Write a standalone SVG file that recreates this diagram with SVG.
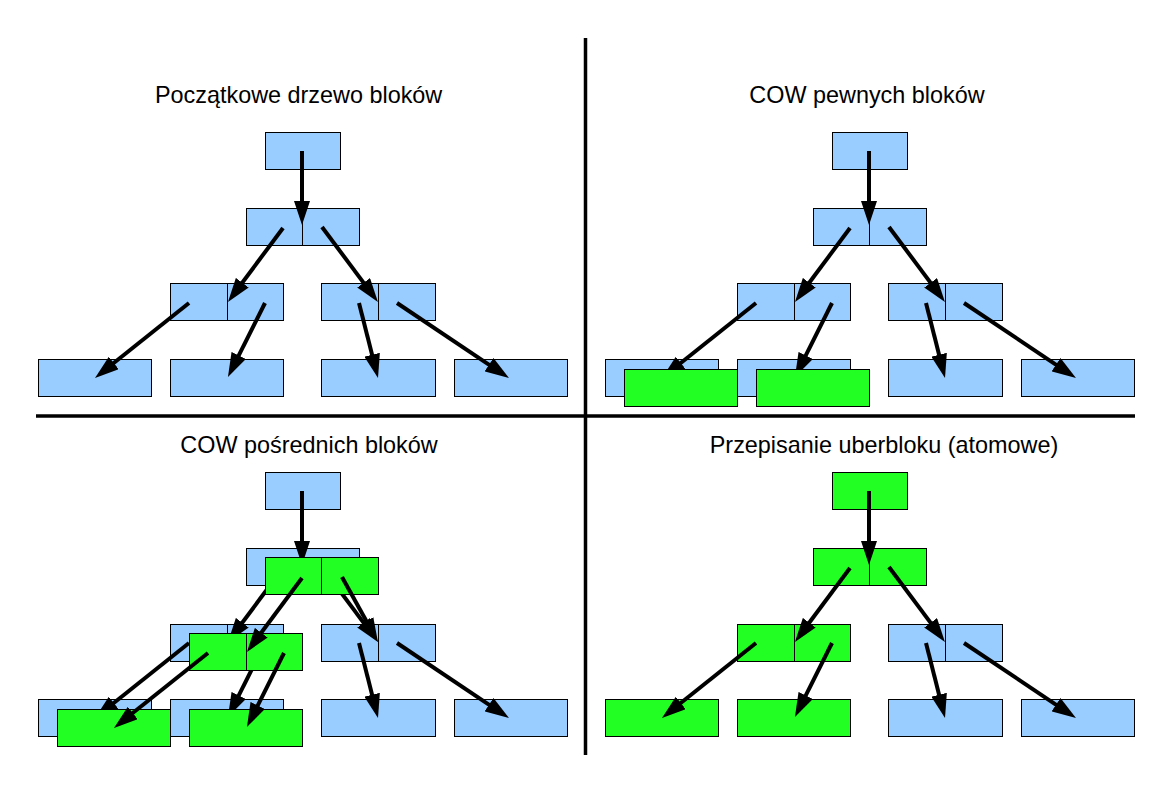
<svg xmlns="http://www.w3.org/2000/svg" width="1172" height="794" viewBox="0 0 1172 794">
<style>
.b{fill:#99ccff;stroke:#000;stroke-width:1}
.g{fill:#22ff22;stroke:#000;stroke-width:1}
.d{stroke:#000;stroke-width:1}
.a{stroke:#000;stroke-width:4;fill:none;marker-end:url(#ah)}
.sep{stroke:#000;stroke-width:3.5}
.t{font-family:"Liberation Sans",Arial,sans-serif;font-size:23.4px;fill:#000;text-anchor:middle}
</style>
<defs>
<marker id="ah" markerUnits="userSpaceOnUse" viewBox="0 0 24 16" markerWidth="24" markerHeight="16" refX="2" refY="8" orient="auto">
<path d="M0,0 L24,8 L0,16 z" fill="#000"/>
</marker>
</defs>
<rect width="1172" height="794" fill="#fff"/>
<g id="separators">
<line class="sep" x1="585.5" y1="38" x2="585.5" y2="755"/>
<line class="sep" x1="36" y1="416" x2="1135" y2="416"/>
</g>
<g id="titles">
<text class="t" x="298.6" y="103">Początkowe drzewo bloków</text>
<text class="t" x="867" y="103">COW pewnych bloków</text>
<text class="t" x="309" y="453">COW pośrednich bloków</text>
<text class="t" x="884" y="453">Przepisanie uberbloku (atomowe)</text>
</g>

<!-- Quadrant 1 -->
<g id="q1-root"><rect class="b" x="265.5" y="132.5" width="75" height="37"/></g>
<g id="q1-l2"><rect class="b" x="246.5" y="208.5" width="113" height="37"/><line class="d" x1="302.5" y1="208.5" x2="302.5" y2="245.5"/></g>
<g id="q1-l3a"><rect class="b" x="170.5" y="283.5" width="113" height="37"/><line class="d" x1="227.5" y1="283.5" x2="227.5" y2="320.5"/></g>
<g id="q1-l3b"><rect class="b" x="321.5" y="283.5" width="114" height="37"/><line class="d" x1="378.5" y1="283.5" x2="378.5" y2="320.5"/></g>
<g id="q1-l4a"><rect class="b" x="38.5" y="359.5" width="113" height="37"/></g>
<g id="q1-l4b"><rect class="b" x="170.5" y="359.5" width="113" height="37"/></g>
<g id="q1-l4c"><rect class="b" x="321.5" y="359.5" width="114" height="37"/></g>
<g id="q1-l4d"><rect class="b" x="454.5" y="359.5" width="113" height="37"/></g>
<g id="q1-connectors">
<path class="a" d="M302,151 L302,203"/>
<path class="a" d="M283,228 L241.1,284.3"/>
<path class="a" d="M322,227 L364.8,284.4"/>
<path class="a" d="M189,303 L112.2,364.3"/>
<path class="a" d="M265,303 L237.8,357.3"/>
<path class="a" d="M359,303 L372.6,356.7"/>
<path class="a" d="M397,303 L490.7,365.8"/>
</g>

<!-- Quadrant 2 -->
<g id="q2-root"><rect class="b" x="832.5" y="132.5" width="75" height="37"/></g>
<g id="q2-l2"><rect class="b" x="813.5" y="208.5" width="113" height="37"/><line class="d" x1="869.5" y1="208.5" x2="869.5" y2="245.5"/></g>
<g id="q2-l3a"><rect class="b" x="737.5" y="283.5" width="113" height="37"/><line class="d" x1="794.5" y1="283.5" x2="794.5" y2="320.5"/></g>
<g id="q2-l3b"><rect class="b" x="888.5" y="283.5" width="114" height="37"/><line class="d" x1="945.5" y1="283.5" x2="945.5" y2="320.5"/></g>
<g id="q2-l4a"><rect class="b" x="605.5" y="359.5" width="113" height="37"/></g>
<g id="q2-l4b"><rect class="b" x="737.5" y="359.5" width="113" height="37"/></g>
<g id="q2-l4c"><rect class="b" x="888.5" y="359.5" width="114" height="37"/></g>
<g id="q2-l4d"><rect class="b" x="1021.5" y="359.5" width="113" height="37"/></g>
<g id="q2-connectors">
<path class="a" d="M869,151 L869,203"/>
<path class="a" d="M850,228 L808.1,284.3"/>
<path class="a" d="M889,227 L931.8,284.4"/>
<path class="a" d="M756,303 L679.2,364.3"/>
<path class="a" d="M832,303 L804.8,357.3"/>
<path class="a" d="M926,303 L939.6,356.7"/>
<path class="a" d="M964,303 L1057.7,365.8"/>
</g>
<g id="q2-l4a-new"><rect class="g" x="624.5" y="369.5" width="113" height="37"/></g>
<g id="q2-l4b-new"><rect class="g" x="756.5" y="369.5" width="113" height="37"/></g>

<!-- Quadrant 3 -->
<g id="q3-root"><rect class="b" x="265.5" y="472.5" width="75" height="37"/></g>
<g id="q3-l2"><rect class="b" x="246.5" y="548.5" width="113" height="37"/></g>
<g id="q3-l3a"><rect class="b" x="170.5" y="624.5" width="113" height="37"/><line class="d" x1="227.5" y1="624.5" x2="227.5" y2="661.5"/></g>
<g id="q3-l3b"><rect class="b" x="321.5" y="624.5" width="114" height="37"/><line class="d" x1="378.5" y1="624.5" x2="378.5" y2="661.5"/></g>
<g id="q3-l4a"><rect class="b" x="38.5" y="699.5" width="113" height="37"/></g>
<g id="q3-l4b"><rect class="b" x="170.5" y="699.5" width="113" height="37"/></g>
<g id="q3-l4c"><rect class="b" x="321.5" y="699.5" width="114" height="37"/></g>
<g id="q3-l4d"><rect class="b" x="454.5" y="699.5" width="113" height="37"/></g>
<g id="q3-connectors-old">
<path class="a" d="M302,491 L302,543"/>
<path class="a" d="M283,568 L241.1,624.3"/>
<path class="a" d="M322,567 L364.8,624.4"/>
<path class="a" d="M189,643 L112.2,704.3"/>
<path class="a" d="M265,643 L237.8,697.3"/>
<path class="a" d="M359,643 L372.6,696.7"/>
<path class="a" d="M397,643 L490.7,705.8"/>
</g>
<g id="q3-l2-new"><rect class="g" x="265.5" y="557.5" width="113" height="37"/><line class="d" x1="321.5" y1="557.5" x2="321.5" y2="594.5"/></g>
<g id="q3-l3a-new"><rect class="g" x="189.5" y="633.5" width="113" height="37"/><line class="d" x1="246.5" y1="633.5" x2="246.5" y2="670.5"/></g>
<g id="q3-l4a-new"><rect class="g" x="57.5" y="709.5" width="113" height="37"/></g>
<g id="q3-l4b-new"><rect class="g" x="189.5" y="709.5" width="113" height="37"/></g>
<g id="q3-connectors-new">
<path class="a" d="M302,578 L260.1,634.3"/>
<path class="a" d="M342,577 L367.3,622.8"/>
<path class="a" d="M208,653 L131.2,714.3"/>
<path class="a" d="M284,653 L256.8,707.3"/>
</g>

<!-- Quadrant 4 -->
<g id="q4-root"><rect class="g" x="832.5" y="472.5" width="75" height="37"/></g>
<g id="q4-l2"><rect class="g" x="813.5" y="548.5" width="113" height="37"/><line class="d" x1="869.5" y1="548.5" x2="869.5" y2="585.5"/></g>
<g id="q4-l3a"><rect class="g" x="737.5" y="624.5" width="113" height="37"/><line class="d" x1="794.5" y1="624.5" x2="794.5" y2="661.5"/></g>
<g id="q4-l3b"><rect class="b" x="888.5" y="624.5" width="114" height="37"/><line class="d" x1="945.5" y1="624.5" x2="945.5" y2="661.5"/></g>
<g id="q4-l4a"><rect class="g" x="605.5" y="699.5" width="113" height="37"/></g>
<g id="q4-l4b"><rect class="g" x="737.5" y="699.5" width="113" height="37"/></g>
<g id="q4-l4c"><rect class="b" x="888.5" y="699.5" width="114" height="37"/></g>
<g id="q4-l4d"><rect class="b" x="1021.5" y="699.5" width="113" height="37"/></g>
<g id="q4-connectors">
<path class="a" d="M869,491 L869,543"/>
<path class="a" d="M850,568 L808.1,624.3"/>
<path class="a" d="M889,567 L931.8,624.4"/>
<path class="a" d="M756,643 L679.2,704.3"/>
<path class="a" d="M832,643 L804.8,697.3"/>
<path class="a" d="M926,643 L939.6,696.7"/>
<path class="a" d="M964,643 L1057.7,705.8"/>
</g>
</svg>
